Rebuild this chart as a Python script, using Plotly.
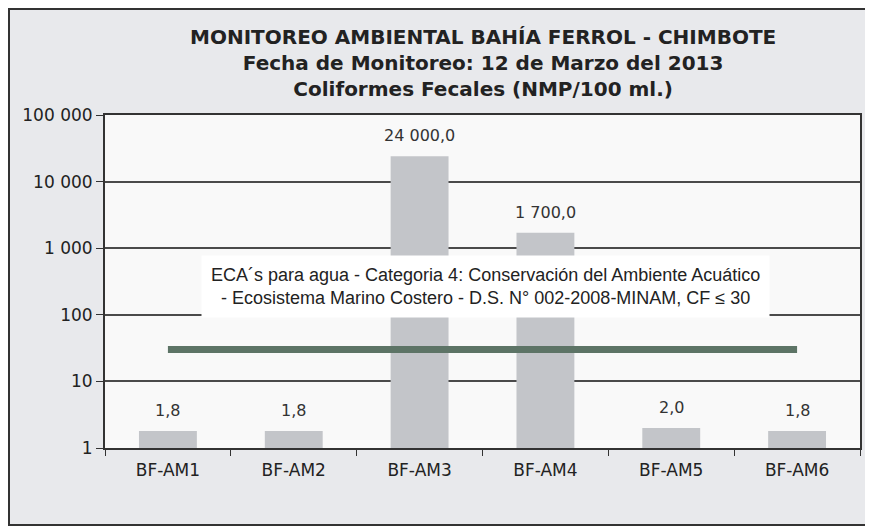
import math
import plotly.graph_objects as go

stations = ["BF-AM1", "BF-AM2", "BF-AM3", "BF-AM4", "BF-AM5", "BF-AM6"]
cf_values = [1.8, 1.8, 24000.0, 1700.0, 2.0, 1.8]
cf_labels = ["1,8", "1,8", "24 000,0", "1 700,0", "2,0", "1,8"]
eca_limit = 30
y_tickvals = [1, 10, 100, 1000, 10000, 100000]
y_ticktext = ["1", "10", "100", "1 000", "10 000", "100 000"]
title_lines = [
    "<b>MONITOREO AMBIENTAL BAHÍA FERROL - CHIMBOTE</b>",
    "<b>Fecha de Monitoreo: 12 de Marzo del 2013</b>",
    "<b>Coliformes Fecales (NMP/100 ml.)</b>",
]
eca_text = ("ECA´s para agua - Categoria 4: Conservación del Ambiente Acuático<br>"
            "- Ecosistema Marino Costero - D.S. N° 002-2008-MINAM, CF ≤ 30")

W, H = 865, 518
ML, MR, MT, MB = 97, 13, 107, 78
PW, PH = W - ML - MR, H - MT - MB

fig = go.Figure()
fig.add_trace(go.Bar(
    x=stations, y=cf_values, width=0.46,
    marker=dict(color="#c3c5c9", line=dict(width=0)),
    showlegend=False, hoverinfo="x+y",
))
fig.add_trace(go.Scatter(
    x=[stations[0], stations[-1]], y=[eca_limit, eca_limit],
    mode="lines", line=dict(color="#5d7466", width=7),
    showlegend=False,
))

for s, v, t in zip(stations, cf_values, cf_labels):
    fig.add_annotation(x=s, y=math.log10(v), text=t, showarrow=False,
                       yanchor="bottom", yshift=9,
                       font=dict(family="DejaVu Sans", size=16, color="#333333"))

fig.add_annotation(x=2.52, y=2.43, text=eca_text, showarrow=False,
                   bgcolor="#ffffff", borderpad=9, align="center",
                   font=dict(family="Liberation Sans", size=18, color="#222222"))

fig.add_annotation(xref="paper", yref="paper", x=0.5, y=1.0, yanchor="bottom",
                   yshift=12, text="<br>".join(title_lines), showarrow=False,
                   align="center",
                   font=dict(family="DejaVu Sans", size=20, color="#222222"))

fig.add_shape(type="rect", xref="paper", yref="paper",
              x0=-ML / PW, x1=(W - ML) / PW, y0=-MB / PH, y1=1 + MT / PH,
              line=dict(color="#333333", width=4), layer="below")

fig.update_layout(
    width=W, height=H,
    margin=dict(l=ML, r=MR, t=MT, b=MB),
    paper_bgcolor="#e8e9ec", plot_bgcolor="#f9f9f9",
    bargap=0.54,
)
fig.update_yaxes(type="log", range=[0, 5], tickvals=y_tickvals, ticktext=y_ticktext,
                 showgrid=True, gridcolor="#4a4a4a", gridwidth=1.5,
                 showline=True, linecolor="#333333", linewidth=2, mirror=True,
                 ticks="outside", ticklen=7, tickcolor="#333333",
                 tickfont=dict(family="DejaVu Sans", size=17, color="#222222"),
                 zeroline=False)
fig.update_xaxes(showgrid=False, showline=True, linecolor="#333333", linewidth=2,
                 mirror=True, ticks="outside", ticklen=6, tickcolor="#333333",
                 tickson="boundaries", ticklabelstandoff=6,
                 tickfont=dict(family="DejaVu Sans", size=17, color="#222222"))

fig.write_html("out.html")
